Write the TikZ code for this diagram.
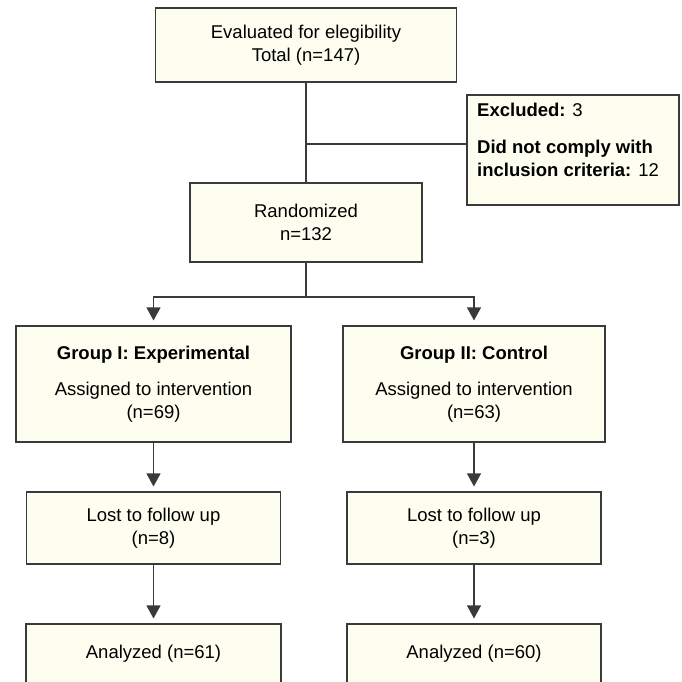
\documentclass[tikz,border=0pt]{standalone}
\usepackage{fontspec}
\setmainfont{Liberation Sans}
\usetikzlibrary{arrows.meta}
\definecolor{boxfill}{HTML}{FEFEF0}
\definecolor{edge}{HTML}{3A3A3A}
\begin{document}
\begin{tikzpicture}[x=1bp,y=-1bp,
  box/.style={draw=edge,fill=boxfill,line width=1.1bp,inner sep=0pt,align=center,
    font=\fontsize{18.5bp}{22.5bp}\selectfont},
  txt/.style={inner sep=0pt,font=\fontsize{18.5bp}{22.5bp}\selectfont},
  conn/.style={draw=edge,line width=1.1bp},
  arr/.style={conn,-{Triangle[length=13bp,width=14bp]},shorten >=5bp}]
\useasboundingbox (0,0) rectangle (682,682);
\clip (0,0) rectangle (682,682);
\node[box,minimum width=301bp,minimum height=74bp] (top) at (306,45) {Evaluated for elegibility\\Total (n=147)};
\node[box,minimum width=232bp,minimum height=79bp] (rand) at (306,222.5) {Randomized\\n=132};
\node[box,minimum width=212bp,minimum height=110bp] (excl) at (573,150) {};
\node[txt,anchor=base west] (ex1) at (477,116.7) {\textbf{Excluded:} 3};
\node[txt,anchor=base west] (ex2) at (477,153) {\textbf{Did not comply with}};
\node[txt,anchor=base west] (ex3) at (477,176) {\textbf{inclusion criteria:} 12};
\node[box,minimum width=275bp,minimum height=116bp] (g1) at (153.5,384) {\textbf{Group I: Experimental}\\[14bp]Assigned to intervention\\(n=69)};
\node[box,minimum width=262bp,minimum height=116bp] (g2) at (474,384) {\textbf{Group II: Control}\\[14bp]Assigned to intervention\\(n=63)};
\node[box,minimum width=254bp,minimum height=72bp] (l1) at (153.5,528) {Lost to follow up\\(n=8)};
\node[box,minimum width=254bp,minimum height=72bp] (l2) at (474,528) {Lost to follow up\\(n=3)};
\node[box,minimum width=255bp,minimum height=60bp] (a1) at (153.5,654) {Analyzed (n=61)};
\node[box,minimum width=254bp,minimum height=60bp] (a2) at (474,654) {Analyzed (n=60)};
\coordinate (j1) at (306,144);
\coordinate (split) at (306,297);
\draw[conn] (top.south) -- (rand.north);
\draw[conn] (j1) -- (j1 -| excl.west);
\draw[conn] (rand.south) -- (split);
\draw[arr] (split) -| (g1.north);
\draw[arr] (split) -| (g2.north);
\draw[arr] (g1.south) -- (l1.north);
\draw[arr] (g2.south) -- (l2.north);
\draw[arr] (l1.south) -- (a1.north);
\draw[arr] (l2.south) -- (a2.north);
\end{tikzpicture}
\end{document}
